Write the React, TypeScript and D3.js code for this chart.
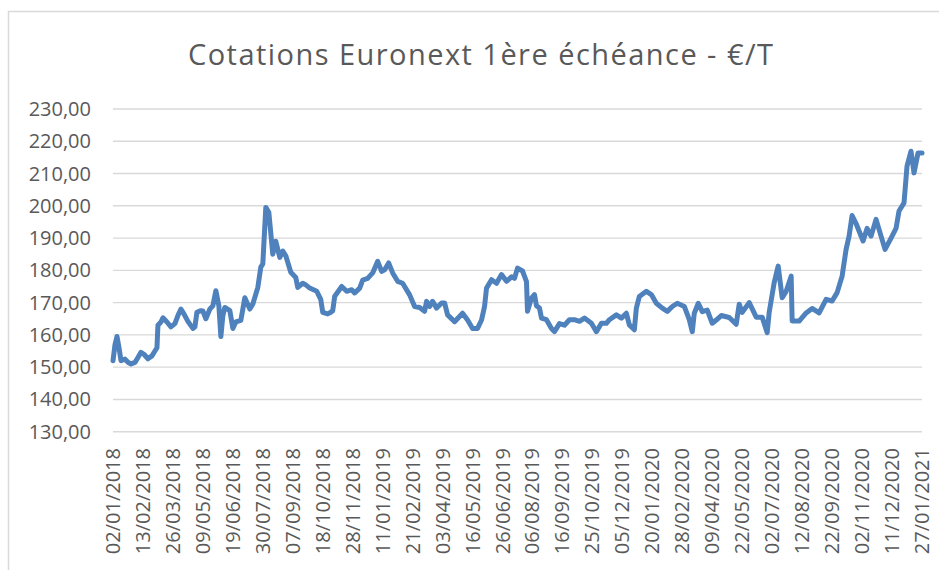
import React from 'react';
import * as d3 from 'd3';

const title = 'Cotations Euronext 1ère échéance - €/T';

// one label every 30 trading sessions (category axis)
const dateLabels = [
  '02/01/2018', '13/02/2018', '26/03/2018', '09/05/2018', '19/06/2018', '30/07/2018', '07/09/2018',
  '18/10/2018', '28/11/2018', '11/01/2019', '21/02/2019', '03/04/2019', '16/05/2019', '26/06/2019',
  '06/08/2019', '16/09/2019', '25/10/2019', '05/12/2019', '20/01/2020', '28/02/2020', '09/04/2020',
  '22/05/2020', '02/07/2020', '12/08/2020', '22/09/2020', '02/11/2020', '11/12/2020', '27/01/2021',
];
const labelStep = 30;

const yTicks = [130, 140, 150, 160, 170, 180, 190, 200, 210, 220, 230];

// session number (from 02/01/2018) and price
const session = [
  0, 2, 4, 6, 8, 12, 15, 18, 22, 25, 28, 31, 35, 39, 42, 44, 45, 48, 50, 54, 58, 62, 65, 68, 71, 75,
  80, 82, 84, 88, 90, 93, 97, 100, 103, 106, 108, 110, 112, 117, 120, 123, 128, 132, 137, 140, 145,
  148, 150, 153, 156, 160, 163, 167, 170, 173, 178, 183, 185, 190, 193, 197, 204, 208, 210, 215, 218,
  220, 222, 229, 234, 239, 242, 247, 250, 255, 260, 265, 269, 272, 276, 280, 285, 290, 297, 302, 307,
  312, 314, 317, 320, 324, 329, 332, 335, 342, 350, 355, 360, 365, 369, 372, 374, 379, 384, 389, 394,
  399, 402, 405, 410, 414, 415, 419, 422, 424, 427, 429, 434, 439, 442, 447, 452, 457, 462, 467, 472,
  479, 484, 489, 494, 497, 504, 509, 514, 517, 522, 524, 527, 534, 539, 544, 550, 555, 560, 565, 572,
  577, 580, 582, 586, 590, 595, 600, 604, 609, 617, 624, 627, 630, 637, 644, 650, 655, 657, 662, 666,
  670, 674, 679, 680, 687, 694, 700, 707, 714, 720, 725, 730, 734, 737, 740, 744, 747, 751, 755, 759,
  764, 769, 773, 779, 784, 787, 792, 795, 799, 802, 806, 810,
];
const price = [
  152, 157, 159.5, 156, 152, 152.5, 151.5, 151, 151.5, 153, 154.6, 154, 152.6, 153.5, 155, 156, 163,
  164, 165.3, 164, 162.5, 163.5, 166, 168, 166.5, 164.2, 162, 162.5, 167, 167.5, 167.4, 165, 168, 169,
  173.7, 169, 159.5, 166, 168.5, 167.5, 162, 164, 164.5, 171.5, 168, 169.6, 174.7, 181, 182, 199.5,
  198, 185, 189, 184, 186, 184.5, 179.4, 177.8, 174.7, 176, 175.5, 174.5, 173.5, 171, 167, 166.5, 167,
  167.5, 172, 175, 173.5, 174, 173, 174.5, 177, 177.5, 179.2, 182.8, 179.7, 180.2, 182.3, 179.2, 176.6,
  176, 172.4, 168.8, 168.5, 167.3, 170.4, 168.8, 170.4, 168.3, 169.9, 169.9, 166.2, 164.1, 166.7, 164.6,
  162, 162, 164.6, 168.8, 174.5, 177.1, 176, 178.7, 176.6, 178, 177.5, 180.7, 179.8, 176.5, 167.3,
  171.4, 172.5, 169, 168.3, 165.2, 164.7, 162, 161, 163.5, 163, 164.7, 164.7, 164.2, 165.2, 163.6, 161,
  163.6, 163.6, 164.7, 166.2, 165.2, 166.7, 163.1, 161.6, 168.3, 171.9, 173.5, 172.5, 169.8, 168.3,
  167.3, 168.8, 169.8, 168.8, 164.7, 161, 166.7, 169.8, 167.2, 167.7, 163.6, 164.6, 166, 165.4, 163.3,
  169.5, 167, 170, 165.5, 165.5, 160.7, 167, 176.2, 181.3, 171.5, 173.5, 178.2, 164.3, 164.3, 166.8,
  168.2, 166.8, 171, 170.5, 173.1, 178.2, 186.5, 190.6, 197, 194.5, 192.2, 189.1, 193, 190.6, 195.8,
  190.6, 186.5, 190, 193, 198.4, 200.9, 212.3, 216.9, 210.2, 216.4, 216.4,
];

const W = 939;
const H = 570;
const font = '"Open Sans", "DejaVu Sans", sans-serif';
const textColor = '#595959';

export default function App() {
  const x = d3.scaleLinear().domain([0, (dateLabels.length - 1) * labelStep]).range([113, 922]);
  const y = d3.scaleLinear().domain([130, 230]).range([431.7, 109]);

  const points = session.map((s, i) => [s, price[i]] as [number, number]);
  const line = d3
    .line<[number, number]>()
    .x(d => x(d[0]))
    .y(d => y(d[1]));

  return (
    <svg width={W} height={H} style={{ position: 'absolute', left: 0, top: 0 }}>
      <rect x={0} y={0} width={W} height={H} fill="#fff" />
      <rect x={8.5} y={11.5} width={W + 20} height={H} fill="none" stroke="#d9d9d9" strokeWidth={1.5} />

      <text
        x={188}
        y={65}
        textLength={585}
        lengthAdjust="spacing"
        fontFamily={font}
        fontSize={29}
        fill={textColor}
      >
        {title}
      </text>

      {/* grid + y labels */}
      {yTicks.map(t => (
        <g key={t}>
          <line x1={x.range()[0]} x2={x.range()[1]} y1={y(t)} y2={y(t)} stroke="#d9d9d9" strokeWidth={1.4} />
          <text x={91} y={y(t)} dy="0.35em" textAnchor="end" fontFamily={font} fontSize={20} fill={textColor}>
            {t.toFixed(2).replace('.', ',')}
          </text>
        </g>
      ))}

      {/* x labels, rotated */}
      {dateLabels.map((lab, i) => {
        const px = x(i * labelStep);
        return (
          <text
            key={lab}
            transform={`translate(${px},448) rotate(-90)`}
            dy="0.35em"
            textAnchor="end"
            fontFamily={font}
            fontSize={20}
            fill={textColor}
          >
            {lab}
          </text>
        );
      })}

      <path
        d={line(points) ?? ''}
        fill="none"
        stroke="#4f81bd"
        strokeWidth={5}
        strokeLinejoin="round"
        strokeLinecap="round"
      />
    </svg>
  );
}
